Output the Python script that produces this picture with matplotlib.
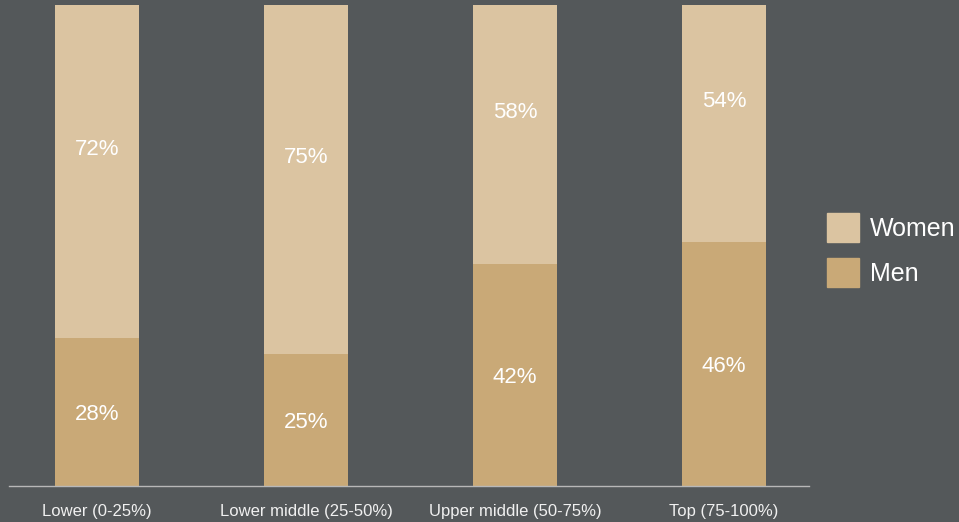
import matplotlib
matplotlib.use("Agg")
import matplotlib.pyplot as plt
from matplotlib.patches import Patch

plt.rcParams['font.family'] = ['Liberation Sans', 'DejaVu Sans']

categories = ["Lower (0-25%)", "Lower middle (25-50%)", "Upper middle (50-75%)", "Top (75-100%)"]
men = [28, 25, 42, 46]
women = [72, 75, 58, 54]

bg = "#54585a"
c_women = "#dbc4a1"
c_men = "#c9a977"

W, H = 959, 522
fig = plt.figure(figsize=(W/100, H/100), dpi=100, facecolor=bg)
ax = fig.add_axes([9/W, 1-486/H, 800/W, 481/H], facecolor=bg)

x = list(range(len(categories)))
ax.bar(x, men, width=0.40, color=c_men, zorder=2)
ax.bar(x, women, width=0.40, bottom=men, color=c_women, zorder=2)

for i in x:
    ax.text(i, men[i]/2, f"{men[i]}%", ha="center", va="center_baseline", color="white", fontsize=16)
    ax.text(i, men[i] + women[i]/2, f"{women[i]}%", ha="center", va="center_baseline", color="white", fontsize=16)

ax.set_xlim(-0.421, 3.407)
ax.set_ylim(0, 90.8)
ax.set_xticks(x)
ax.set_xticklabels(categories, color="#f0f0f0", fontsize=12)
ax.tick_params(axis="x", length=0, pad=13)
ax.set_yticks([])
for s in ["top", "left", "right"]:
    ax.spines[s].set_visible(False)
ax.spines["bottom"].set_color("#b8b8b8")
ax.spines["bottom"].set_linewidth(1)

handles = [Patch(color=c_women, label="Women"), Patch(color=c_men, label="Men")]
leg = fig.legend(handles=handles, loc="center left", bbox_to_anchor=(804/W, 1-250/H),
                 frameon=False, fontsize=18, handlelength=1.3, handleheight=1.4,
                 labelspacing=0.65, handletextpad=0.45, labelcolor="white")

fig.savefig("out.png", dpi=100, facecolor=bg)
